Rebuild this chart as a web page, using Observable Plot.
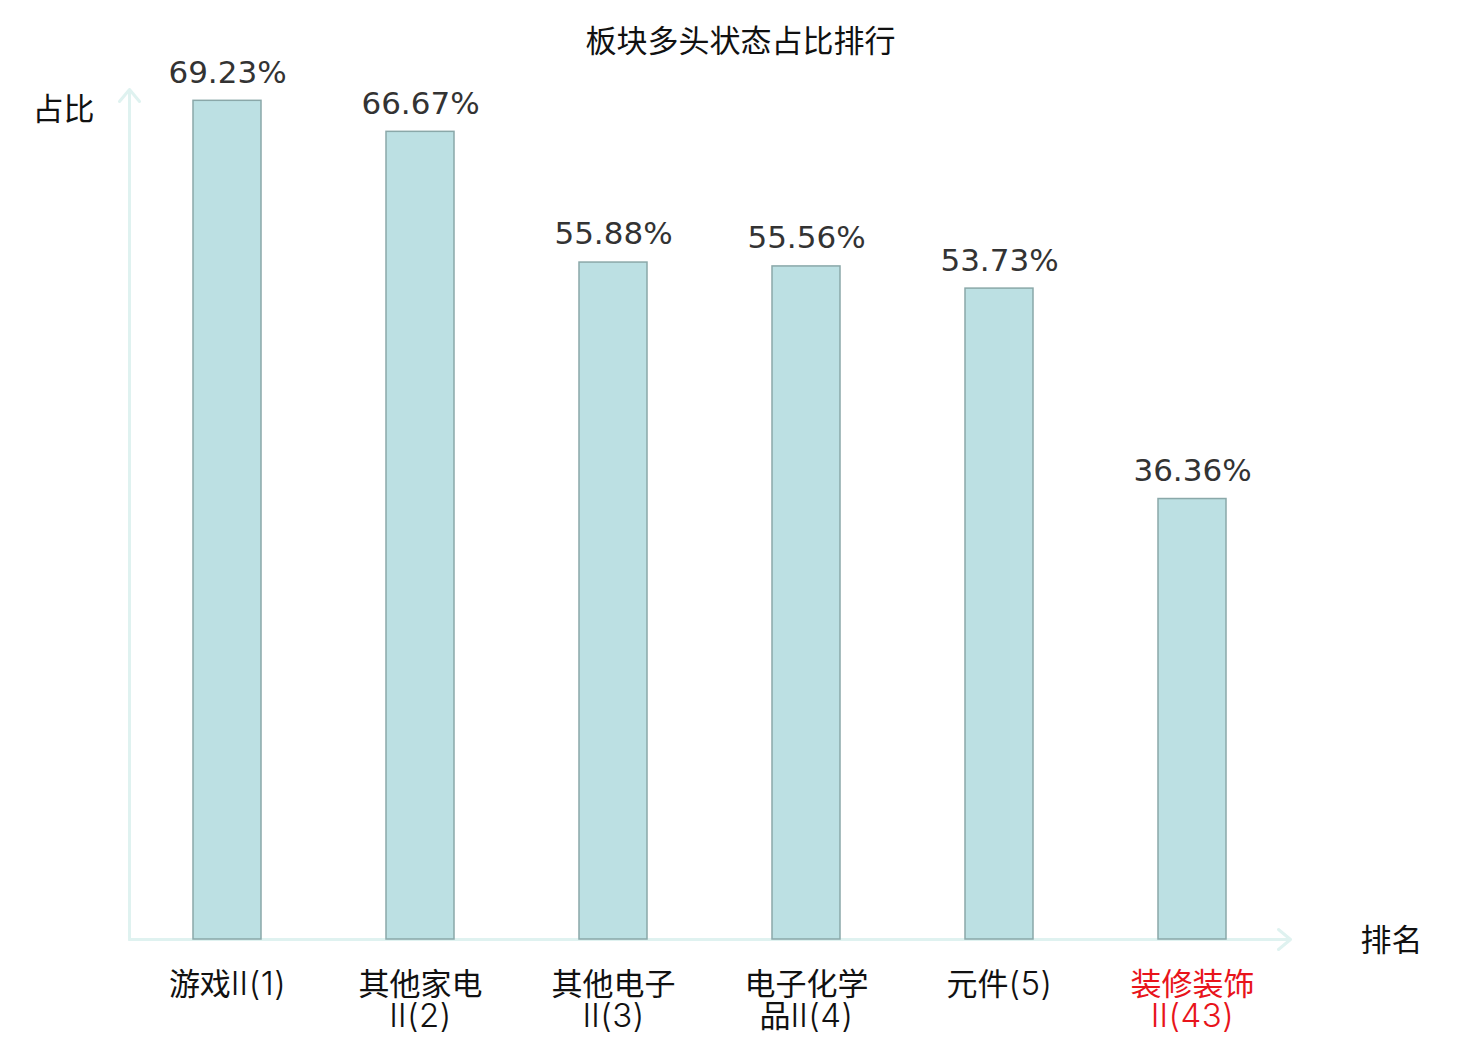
<!DOCTYPE html>
<html>
<head>
<meta charset="utf-8">
<script src="https://cdn.jsdelivr.net/npm/d3@7"></script>
<script src="https://cdn.jsdelivr.net/npm/@observablehq/plot@0.6"></script>
<style>
  html, body { margin: 0; padding: 0; background: #fff; }
  #chart svg { display: block; }
  .tick-lbl .lat { font-family: 'Inter', 'Noto Sans CJK SC', sans-serif; font-weight: 300; font-size: 33px; letter-spacing: 0.5px; }
  .tick-lbl .han { font-family: 'Noto Sans CJK SC', sans-serif; font-weight: 400; }
</style>
</head>
<body>
<div id="chart"></div>
<script>
const categories = ["游戏Ⅱ(1)", "其他家电Ⅱ(2)", "其他电子Ⅱ(3)", "电子化学品Ⅱ(4)", "元件(5)", "装修装饰Ⅱ(43)"];
const tickLabels = ["游戏Ⅱ(1)", "其他家电\nⅡ(2)", "其他电子\nⅡ(3)", "电子化学\n品Ⅱ(4)", "元件(5)", "装修装饰\nⅡ(43)"];
const values = [69.23, 66.67, 55.88, 55.56, 53.73, 36.36];
const highlighted = [false, false, false, false, false, true];
const title = "板块多头状态占比排行";
const yLabel = "占比";
const xLabel = "排名";

const data = categories.map((c, i) => ({cat: c, value: values[i], tick: tickLabels[i], hl: highlighted[i]}));

const axisColor = "#dff2f0";
const arrowShape = {
  draw(ctx, l) {
    ctx.moveTo(0, 0);
    ctx.lineTo(0, -l);
    ctx.moveTo(-10, -l + 12);
    ctx.lineTo(0, -l);
    ctx.lineTo(10, -l + 12);
  }
};

const cjk = "'Noto Sans CJK SC', 'DejaVu Sans', sans-serif";
const latin = "'DejaVu Sans', 'Noto Sans CJK SC', sans-serif";

const chart = Plot.plot({
  width: 1480,
  height: 1040,
  marginLeft: 129,
  marginRight: 190,
  marginTop: 91,
  marginBottom: 101,
  style: {background: "#fff"},
  x: {domain: categories, paddingInner: 0.65, paddingOuter: 0.325, axis: null},
  y: {domain: [0, 70], axis: null},
  marks: [
    Plot.vector([0], {frameAnchor: "bottom-left", length: 850, rotate: 0, anchor: "start", shape: arrowShape, stroke: axisColor, strokeWidth: 3}),
    Plot.vector([0], {frameAnchor: "bottom-left", length: 1161, rotate: 90, anchor: "start", shape: arrowShape, stroke: axisColor, strokeWidth: 3}),
    Plot.barY(data, {x: "cat", y: "value", fill: "#bce0e3", stroke: "#8aa8a9", strokeWidth: 1.5}),
    Plot.text(data, {x: "cat", y: "value", text: d => d.value.toFixed(2) + "%", dy: -28, fontSize: 31, fill: "#333", fontFamily: latin}),
    Plot.text(data, {x: "cat", frameAnchor: "bottom", text: "tick", lineAnchor: "top", dy: 33, fontSize: 31, lineHeight: 1.03, fill: d => d.hl ? "#e8141b" : "#111", fontFamily: cjk, className: "tick-lbl"}),
    Plot.text([title], {frameAnchor: "top", lineAnchor: "middle", text: d => d, dx: 30.5, dy: -49, fontSize: 31, fill: "#111", fontFamily: cjk}),
    Plot.text([yLabel], {frameAnchor: "top-left", lineAnchor: "middle", text: d => d, dx: -66, dy: 19, fontSize: 31, fill: "#111", textAnchor: "middle", fontFamily: cjk}),
    Plot.text([xLabel], {frameAnchor: "bottom-right", lineAnchor: "middle", text: d => d, dx: 101, dy: 2, fontSize: 31, fill: "#111", textAnchor: "middle", fontFamily: cjk})
  ]
});

// style the Latin parts of tick labels (Ⅱ, digits, parentheses) in a lighter face
const isHan = ch => /[\u4e00-\u9fff]/.test(ch);
function splitRuns(node) {
  const s = node.textContent;
  const runs = [];
  for (const ch of s) {
    const h = isHan(ch);
    if (runs.length && runs[runs.length - 1].h === h) runs[runs.length - 1].t += ch;
    else runs.push({h, t: ch});
  }
  node.textContent = "";
  for (const r of runs) {
    const sp = document.createElementNS("http://www.w3.org/2000/svg", "tspan");
    sp.setAttribute("class", r.h ? "han" : "lat");
    sp.textContent = r.t;
    node.appendChild(sp);
  }
}
chart.querySelectorAll(".tick-lbl text").forEach(t => {
  const lines = t.querySelectorAll("tspan");
  if (lines.length) lines.forEach(splitRuns);
  else splitRuns(t);
});

document.getElementById("chart").appendChild(chart);
</script>
</body>
</html>
